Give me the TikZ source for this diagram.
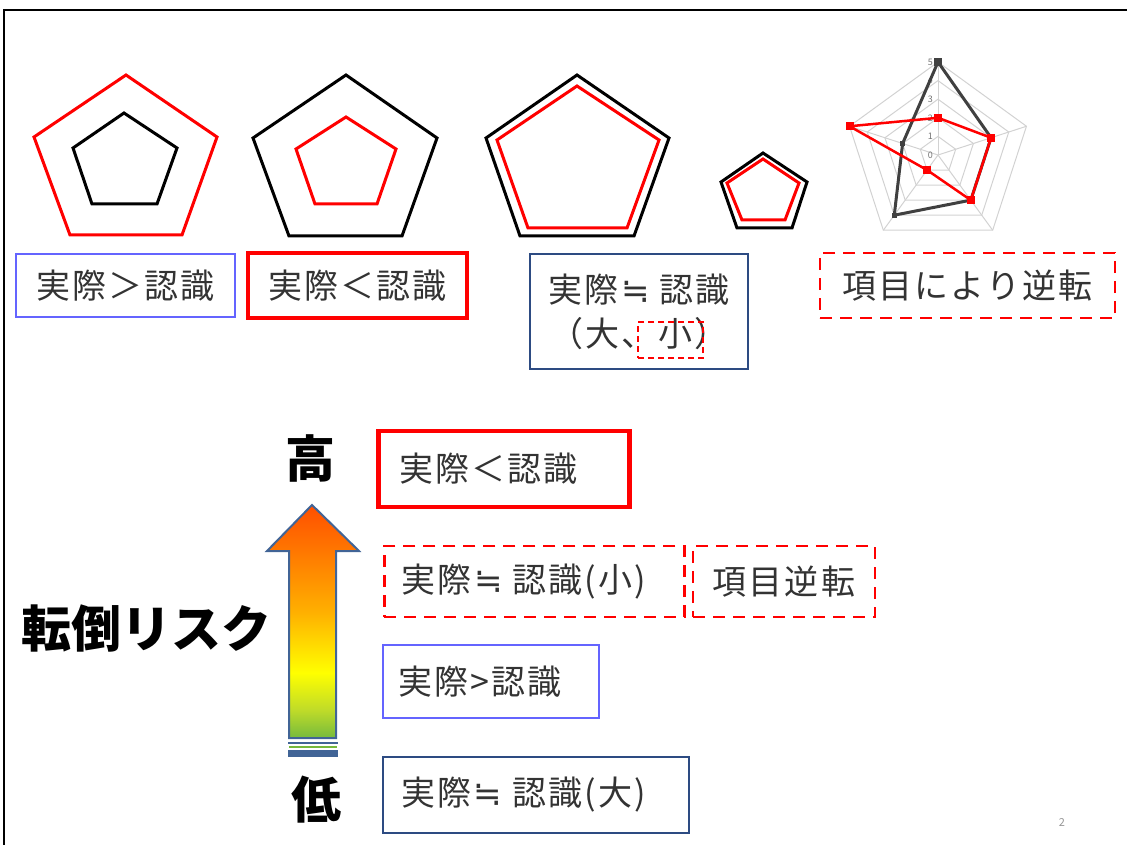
\documentclass[tikz,border=0pt]{standalone}
\usepackage{fontspec}
\setmainfont{Noto Sans CJK JP}
\newfontfamily\jp{Noto Sans CJK JP}
\newfontfamily\jpsp[LetterSpace=6]{Noto Sans CJK JP}
\newfontfamily\symfont{DejaVu Sans}
\newcommand\nearlyeq{{\symfont\hspace{0.08em}≒\hspace{0.3em}}}
\definecolor{vio}{RGB}{100,100,255}
\definecolor{navy}{RGB}{45,75,130}
\definecolor{arrowline}{RGB}{65,100,150}
\definecolor{rgrid}{RGB}{210,210,210}
\definecolor{rdark}{RGB}{64,64,64}
\definecolor{pnum}{RGB}{150,150,150}
\definecolor{stripegreen}{RGB}{118,185,60}
\pgfdeclareverticalshading{riskgrad}{100bp}{rgb(0bp)=(0.46,0.73,0.24); rgb(25bp)=(0.46,0.73,0.24); rgb(31bp)=(0.75,0.86,0.16); rgb(39bp)=(1,1,0); rgb(52bp)=(1,0.69,0); rgb(65bp)=(1,0.47,0); rgb(75bp)=(1,0.31,0); rgb(100bp)=(1,0.31,0)}
\tikzset{
  txt/.style={font=\jpsp\fontsize{34}{44}\selectfont, text=black!80, inner ysep=0pt},
  big/.style={font=\jp\bfseries\fontsize{50}{56}\selectfont, inner sep=0pt},
  vbox/.style={txt, draw=vio, line width=1.5pt},
  rbox/.style={txt, draw=red, line width=4.5pt},
  nbox/.style={txt, draw=navy, line width=2pt},
  dbox/.style={txt, draw=red, line width=2.5pt, dash pattern=on 12pt off 8pt},
  pent/.style={line width=3pt, line join=miter},
  gridline/.style={draw=rgrid, line width=1pt},
}
\begin{document}
\begin{tikzpicture}[x=1pt,y=-1pt]
\useasboundingbox (0,0) rectangle (1127,845);
% slide frame
\draw[line width=2pt] (3.5,845) -- (3.5,10) -- (1127,10);

% pentagon 1
\draw[pent, red] (126,75) -- (217,137) -- (182,235) -- (70,235) -- (34,137) -- cycle;
\draw[pent, black] (124,113) -- (177,148) -- (157,204) -- (92,204) -- (73,148) -- cycle;
% pentagon 2
\draw[pent, black] (346,75) -- (437,138) -- (402,236) -- (289,236) -- (253,138) -- cycle;
\draw[pent, red] (346,117) -- (396,149) -- (377,204) -- (315,204) -- (296,149) -- cycle;
% pentagon 3
\draw[pent, black] (577,75) -- (669,138) -- (634,236) -- (520,236) -- (486,138) -- cycle;
\draw[pent, red] (577,86) -- (659,140) -- (627,228) -- (528,228) -- (497,140) -- cycle;
% pentagon 4
\draw[pent, black] (763,153) -- (807,182) -- (792,228) -- (737,228) -- (721,182) -- cycle;
\draw[pent, red] (763,159) -- (799,183) -- (785,220) -- (742,220) -- (727,183) -- cycle;

% radar chart
\begin{scope}[shift={(938,155)}]
  \foreach \k in {1,...,5}{
    \draw[gridline] (-90:18.6*\k) -- (-18:18.6*\k) -- (54:18.6*\k) -- (126:18.6*\k) -- (198:18.6*\k) -- cycle;
  }
  \foreach \a in {-90,-18,54,126,198}{
    \draw[gridline] (0,0) -- (\a:93);
  }
  \foreach \k in {0,...,5}{
    \node[font=\fontsize{9}{10}\selectfont, text=black!55, inner sep=0pt, anchor=east] (rl\k) at (-5,-18.6*\k) {\k};
  }
  \draw[rdark, line width=3pt, line join=round] (-90:93) -- (-18:55.8) -- (54:55.8) -- (126:74.4) -- (198:37.2) -- cycle;
  \foreach \a/\r in {-18/55.8,54/55.8,126/74.4,198/37.2}{
    \fill[rdark] (\a:\r) +(-2.5,-2.5) rectangle +(2.5,2.5);
  }
  \fill[rdark] (-90:93) +(-4,-4) rectangle +(4,4);
  \draw[red, line width=2.5pt, line join=round] (-90:37.2) -- (-18:55.8) -- (54:55.8) -- (126:18.6) -- (198:93) -- cycle;
  \foreach \a/\r in {-90/37.2,-18/55.8,54/55.8,126/18.6,198/93}{
    \fill[red] (\a:\r) +(-4,-4) rectangle +(4,4);
  }
\end{scope}

% top labels
\node[vbox, minimum width=219pt, minimum height=63pt] (bA) at (125.5,285.5) {実際＞認識};
\node[rbox, minimum width=219pt, minimum height=65pt] (bB) at (357.5,285.5) {実際＜認識};
\node[nbox, minimum width=218pt, minimum height=115pt, align=center] (bC) at (639,311.5) {実際\nearlyeq 認識\\（大、小）};
\node[draw=red, line width=2.5pt, dash pattern=on 6pt off 4pt, minimum width=65pt, minimum height=36pt, inner sep=0pt] (bCs) at (670.5,340) {};
\node[dbox, minimum width=295pt, minimum height=65pt] (bD) at (967.5,285.5) {項目により逆転};

% risk scale
\shadedraw[shading=riskgrad, draw=arrowline, line width=2pt, line join=miter]
  (312,505) -- (359,551) -- (336,551) -- (336,738) -- (289,738) -- (289,551) -- (267,551) -- cycle;
\fill[arrowline] (288,741.5) rectangle (338,744);
\fill[stripegreen] (289,745.5) rectangle (337,748);
\fill[arrowline] (288,749.5) rectangle (338,756.5);

\node[big] (hi) at (310,458) {高};
\node[big] (lo) at (316,800) {低};
\node[big] (risk) at (146,628) {転倒リスク};

% ranked boxes
\node[rbox, anchor=west, minimum height=76pt, text width=209pt, inner xsep=21pt, align=left] (bE) at (376,469) {実際＜認識};
\node[dbox, anchor=west, minimum height=71pt, text width=266pt, inner xsep=17pt, align=left] (bF) at (383,581.5) {実際\nearlyeq 認識(小)};
\node[dbox, minimum width=182pt, minimum height=71pt] (bG) at (784,581.5) {項目逆転};
\node[vbox, anchor=west, minimum height=73pt, text width=184pt, inner xsep=16pt, align=left] (bH) at (382,681.5) {実際>認識};
\node[nbox, anchor=west, minimum height=76pt, text width=270pt, inner xsep=18pt, align=left] (bI) at (382,795) {実際\nearlyeq 認識(大)};

% page number
\node[font=\jp\fontsize{11}{13}\selectfont, text=pnum, inner sep=0pt] (pg) at (1062,822) {2};
\end{tikzpicture}
\end{document}
